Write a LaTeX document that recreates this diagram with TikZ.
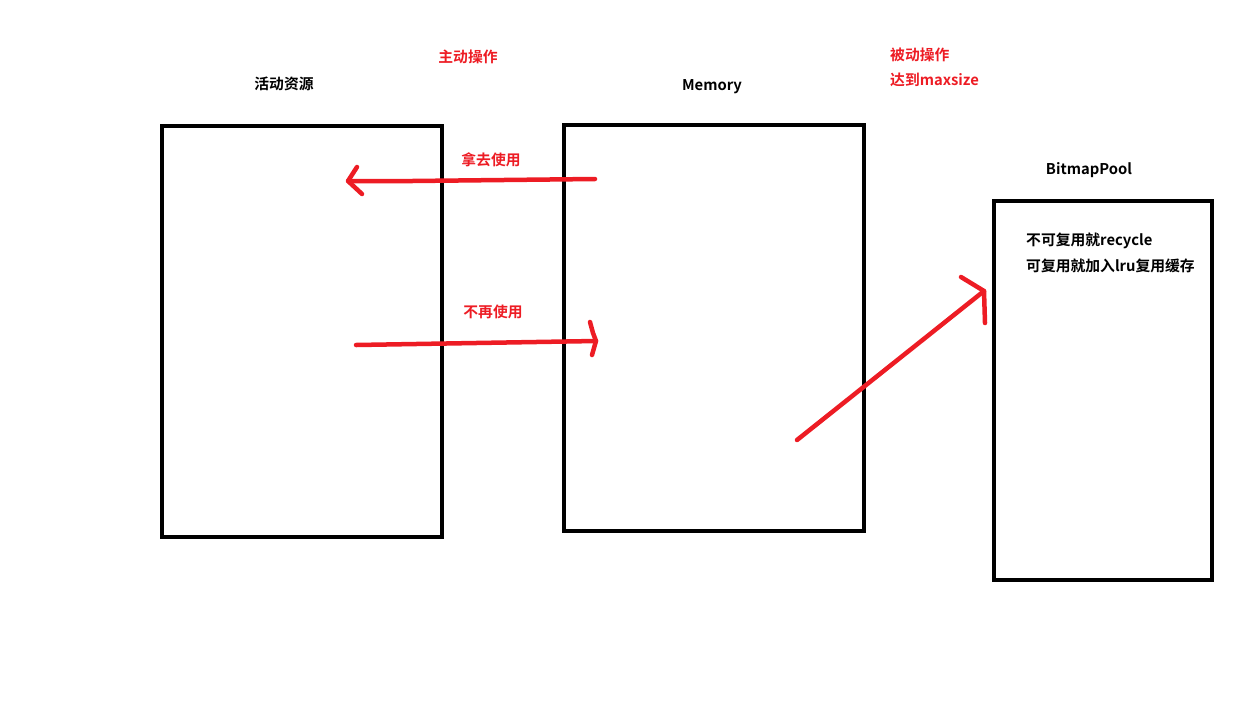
\documentclass[tikz,border=0pt]{standalone}
\usepackage{fontspec}
\setmainfont{Noto Sans CJK SC}[BoldFont={* Bold}]
\definecolor{pred}{HTML}{ED1C24}
\begin{document}
\begin{tikzpicture}[x=1pt,y=-1pt,
  box/.style={draw=black,line width=4.5pt},
  lbl/.style={inner sep=0pt,font=\fontsize{14.8}{17}\selectfont\bfseries},
  rlbl/.style={lbl,text=pred},
  redline/.style={draw=pred,line width=4.5pt,line cap=round,line join=round}]
\useasboundingbox (0,0) rectangle (1236,702);
% boxes
\draw[box] (162,126) rectangle (442,537);
\draw[box] (564,125) rectangle (864,531);
\draw[box] (994,201) rectangle (1212,580);
\node[draw=none,inner sep=0pt,minimum size=0pt] (act) at (302,331) {};
\node[draw=none,inner sep=0pt,minimum size=0pt] (mem) at (714,328) {};
\node[draw=none,inner sep=0pt,minimum size=0pt] (pool) at (1103,390) {};
% labels
\node[lbl] (tact) at (284,84) {活动资源};
\node[lbl] (tmem) at (712,87) {Memory};
\node[lbl] (tpool) at (1089,170) {BitmapPool};
\node[rlbl] (tzd) at (468,57) {主动操作};
\node[rlbl,anchor=west] (tbd) at (890,55) {被动操作};
\node[rlbl,anchor=west] (tmax) at (890,80) {达到maxsize};
\node[rlbl] (tna) at (491,160) {拿去使用};
\node[rlbl] (tbz) at (493,312) {不再使用};
\node[lbl,anchor=west] (t1) at (1026,241) {不可复用就recycle};
\node[lbl,anchor=west] (t2) at (1026,266) {可复用就加入lru复用缓存};
% arrows
\coordinate (a1s) at (595,179);
\coordinate (a1e) at (348,181);
\draw[redline] (a1s) -- (412,181) -- (a1e);
\draw[redline] (357,167) -- (a1e) -- (362,194);
\coordinate (a2s) at (356,345);
\coordinate (a2e) at (596,341);
\draw[redline] (a2s) -- (a2e);
\draw[redline] (590,322) -- (593,333) -- (a2e) -- (592,355);
\coordinate (a3s) at (797,440);
\coordinate (a3e) at (984,291);
\draw[redline] (a3s) -- (a3e);
\draw[redline] (961,277) -- (a3e) -- (985,323);
\end{tikzpicture}
\end{document}
